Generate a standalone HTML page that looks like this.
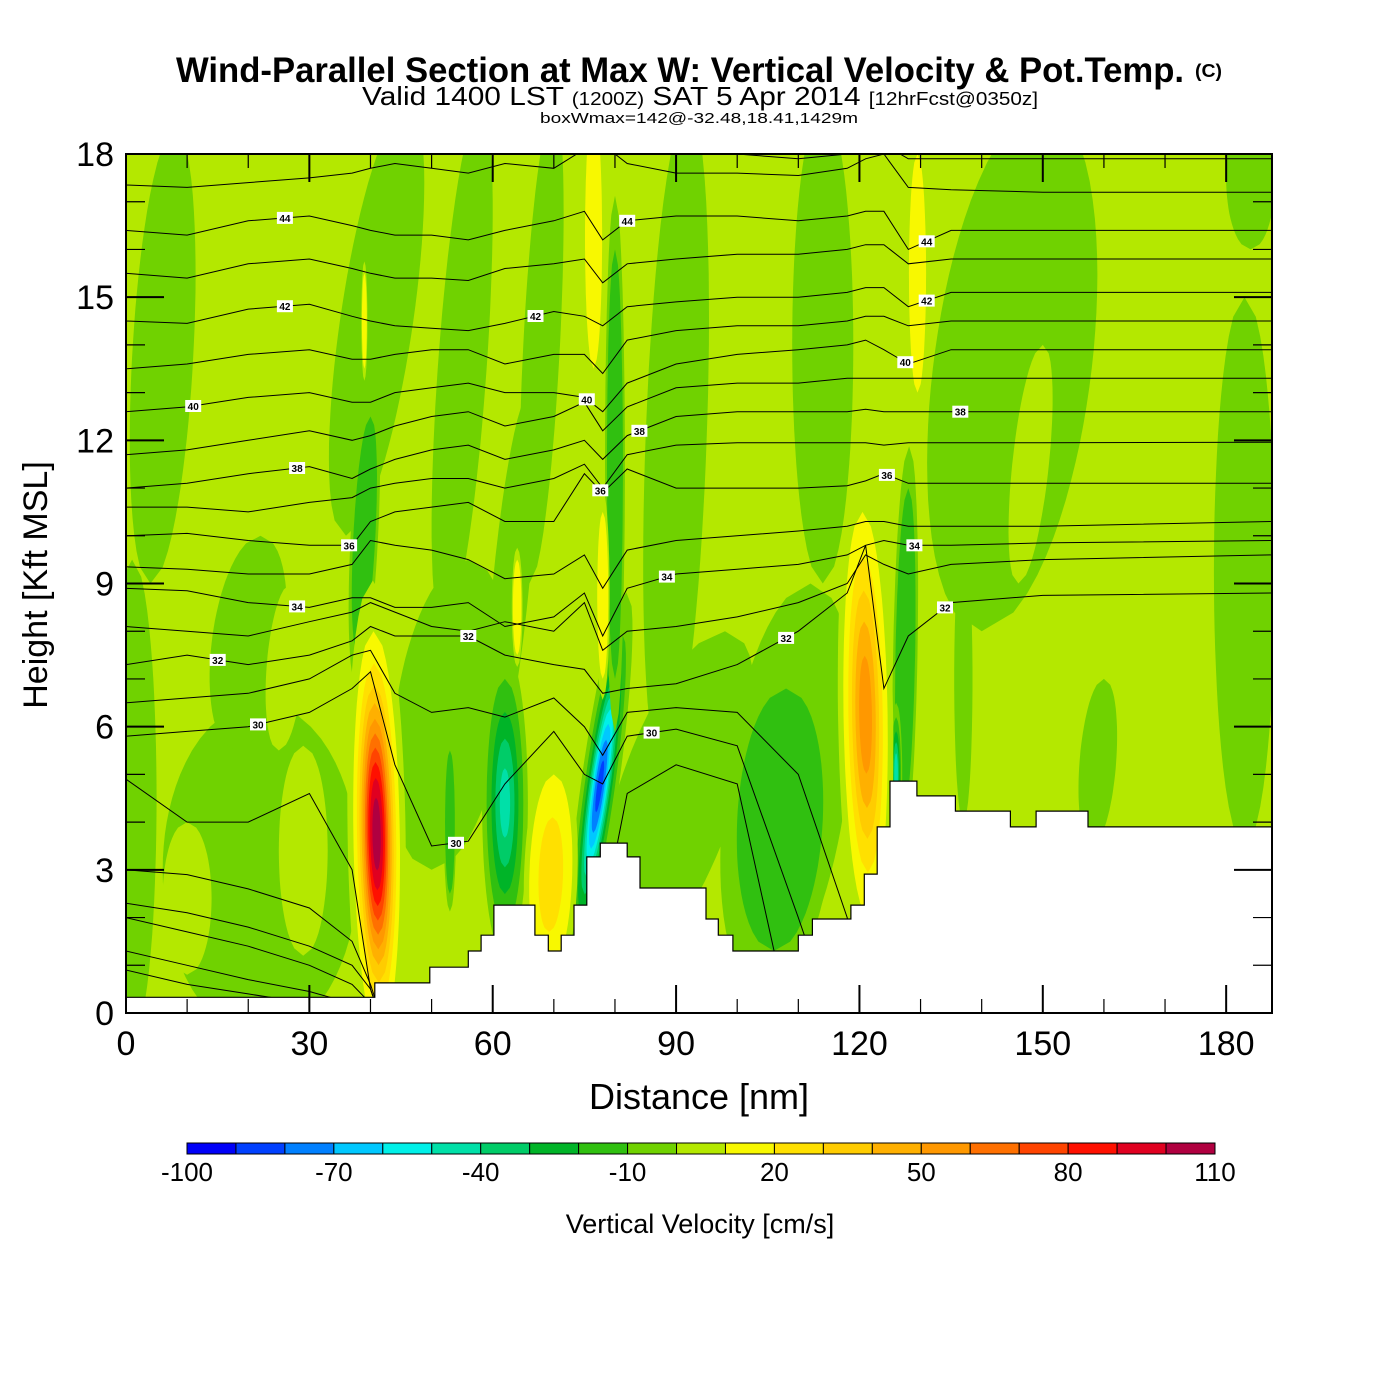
<!DOCTYPE html>
<html><head><meta charset="utf-8"><title>Wind-Parallel Section</title>
<style>body{margin:0;background:#fff}svg{display:block;font-family:"Liberation Sans",sans-serif}</style></head>
<body>
<svg id="chart" width="1400" height="1400" xmlns="http://www.w3.org/2000/svg">
<defs><clipPath id="plotclip"><rect x="126" y="154" width="1146" height="859"/></clipPath></defs>
<rect width="1400" height="1400" fill="#fff"/>
<g id="field" clip-path="url(#plotclip)"></g>
<g id="contours" clip-path="url(#plotclip)"></g>
<g id="terrain" clip-path="url(#plotclip)"></g>
<g id="clabels" clip-path="url(#plotclip)"></g>
<rect x="126" y="154" width="1146" height="859" fill="none" stroke="#000" stroke-width="2"/>
<g id="axes"></g>
<g id="colorbar"></g>
<g>
<text x="176" y="82" font-size="35" font-weight="bold" textLength="1008" lengthAdjust="spacingAndGlyphs">Wind-Parallel Section at Max W: Vertical Velocity &amp; Pot.Temp.</text>
<text x="1195" y="77" font-size="18" font-weight="bold" textLength="27" lengthAdjust="spacingAndGlyphs">(C)</text>
<text x="362" y="105" font-size="26" textLength="676" lengthAdjust="spacingAndGlyphs">Valid 1400 LST <tspan font-size="18">(1200Z)</tspan> SAT 5 Apr 2014 <tspan font-size="18">[12hrFcst@0350z]</tspan></text>
<text x="540" y="123" font-size="15" textLength="318" lengthAdjust="spacingAndGlyphs">boxWmax=142@-32.48,18.41,1429m</text>
<text x="699" y="1109" font-size="36" text-anchor="middle">Distance [nm]</text>
<text transform="translate(47,585) rotate(-90)" font-size="34" text-anchor="middle">Height [Kft MSL]</text>
<text x="700" y="1233" font-size="27" text-anchor="middle">Vertical Velocity [cm/s]</text>
</g>
</svg>
<script>
// ---------- data ----------
const colorLevels = [-100,-90,-80,-70,-60,-50,-40,-30,-20,-10,0,10,20,30,40,50,60,70,80,90,100];
const colorBins = ['#0000f8','#0040ff','#0080ff','#00c8ff','#00f0e8','#00e0a8','#00cc68','#00b428','#30c010','#70d200','#b4e800','#f8f800','#ffe000','#ffcc00','#ffb000','#ff9800','#ff7000','#ff4400','#ff1000','#e00020','#b00040'];
const colorbarTicks = [-100,-70,-40,-10,20,50,80,110];
const xTicks = [0,30,60,90,120,150,180];
const yTicks = [0,3,6,9,12,15,18];
const backgroundW = 5;
// w features: bottom-center nm, top-center nm, bottom kft, top kft, half-width nm, peak w (cm/s)
const featX0 = [4,1,22,18,36,52,60,50,66,88,82,104,114,140,137,183,158,184, 10,29,25,146,170, 38,62,74,80,106,127,126,53, 41.5,121.5,69,78,76.5,129.5,64,39];
const featX1 = [8,1,22,22,46,58,66,56,70,92,98,112,114,150,137,183,160,184, 10,29,27,150,170, 40,62,81,80,108,128,126,53, 40.5,120.5,70,78,76.5,129.5,64,39];
const featY0 = [9,-0.5,-0.5,5.5,10,8,5,3,9,5,1,0.5,9,8,4,3.5,3.5,16, 0.8,1.2,5.5,9,8, 7.5,1.8,1.5,7,1.3,4,3.8,2.5, -0.5,2.0,0.8,7,13.5,13,7.5,13.5];
const featY1 = [18.5,9.5,6.5,10,19,19,13,9.5,19,19,8,9,19,19,10,15,7,19, 4,5.6,9,14,19, 12.5,7,8,16,6.8,11,6.2,5.5, 8.0,10.5,5,10.5,19,18,9.5,15.5];
const featHW = [5,4,16,6,6,4,3,9,3,5,10,10,5,13,1.5,5,3,4, 4,4,3,3,5, 1.8,3,2.5,1.3,7,1.6,0.8,0.8, 3.8,3.6,3.5,0.9,1.4,1.4,0.7,0.4];
const featW = [-5,-5,-5,-5,-5,-5,-5,-5,-5,-5,-5,-5,-5,-5,-5,-5,-5,-5, 5,5,5,5,5, -15,-45,-85,-18,-14,-20,-50,-15, 108,58,28,18,19,18,14,12];
// terrain steps: start distance (nm) and height (kft)
const terrX = [0,40.7,49.7,56,58.1,60.2,66.9,69.1,71.2,73.3,75.4,77.6,82,84.1,94.9,96.9,99.3,110,112.3,118.6,120.8,122.9,125,129.4,135.7,144.7,148.9,157.4];
const terrH = [0.33,0.63,0.96,1.3,1.63,2.26,1.63,1.3,1.63,2.26,3.27,3.56,3.27,2.62,1.97,1.63,1.3,1.63,1.97,2.26,2.91,3.9,4.86,4.55,4.23,3.9,4.23,3.9];
// potential temperature contours: node distances and heights per level
const thetaNodes = [0,10,20,30,37,40,44,50,56,62,70,75,78,82,90,100,110,118,121,124,128,135,150,187.5];
const thetaLevels = [24,25,26,27,28,29,30,31,32,33,34,35,36,37,38,39,40,41,42,43,44,45,46];
const theta24 = [0.9,0.6,0.4,0.2,0,-1,-1,-1,-1,-1,-1,-1,-1,-1,-1,-1,-1,-1,-1,-1,-1,-1,-1,-1];
const theta25 = [1.3,1.0,0.7,0.45,0.2,-1,-1,-1,-1,-1,-1,-1,-1,-1,-1,-1,-1,-1,-1,-1,-1,-1,-1,-1];
const theta26 = [2.0,1.7,1.4,1.0,0.6,0.2,-1,-1,-1,-1,-1,-1,-1,-1,-1,-1,-1,-1,-1,-1,-1,-1,-1,-1];
const theta27 = [2.3,2.1,1.8,1.4,1.0,0.5,-1,-1,-1,-1,-1,-1,-1,-1,-1,-1,-1,-1,-1,-1,-1,-1,-1,-1];
const theta28 = [3.0,2.9,2.6,2.2,1.5,0.6,-1,-1,-1,-1,-1,-1,-1,-1,-1,-1,-1,-1,-1,-1,-1,-1,-1,-1];
const theta29 = [4.9,4.0,4.0,4.6,3.0,0.5,-1,-1,-1,-1,-1,-1,2.0,4.6,5.2,4.8,-1,-1,-1,-1,-1,-1,-1,-1];
const theta30 = [5.8,5.9,6.0,6.3,6.8,7.15,5.2,3.5,3.6,4.8,5.9,5.0,4.8,5.8,5.95,5.6,2.0,-1,-1,-1,-1,-1,-1,-1];
const theta31 = [6.5,6.6,6.7,7.0,7.5,7.6,6.7,6.3,6.4,6.2,6.6,6.0,5.4,6.3,6.4,6.3,5.0,2.0,-1,-1,-1,-1,-1,-1];
const theta32 = [7.3,7.5,7.3,7.5,7.8,8.1,7.9,7.9,7.9,7.5,7.3,7.2,6.7,6.8,6.9,7.3,8.0,8.8,9.8,6.8,7.9,8.6,8.75,8.8];
const theta33 = [8.1,8.0,7.9,8.2,8.4,8.6,8.4,8.1,8.0,8.2,8.0,8.6,7.6,8.0,8.1,8.3,8.6,9.0,9.6,9.4,9.2,9.4,9.5,9.6];
const theta34 = [8.9,8.85,8.6,8.5,8.7,8.7,8.5,8.5,8.6,8.1,8.3,8.8,7.9,8.9,9.2,9.3,9.4,9.6,9.8,9.9,9.8,9.8,9.85,9.9];
const theta35 = [9.35,9.3,9.2,9.2,9.4,9.9,9.8,9.7,9.5,9.1,9.2,9.6,8.9,9.7,9.9,10.0,10.1,10.2,10.3,10.3,10.2,10.2,10.2,10.3];
const theta36 = [10.0,10.05,9.9,9.8,9.8,10.3,10.5,10.6,10.7,10.3,10.3,11.3,10.9,11.4,11.0,11.0,11.0,11.05,11.15,11.3,11.1,11.1,11.1,11.1];
const theta37 = [10.6,10.6,10.5,10.7,10.8,11.0,11.1,11.2,11.2,11.0,11.2,11.5,11.0,11.7,11.9,11.95,11.95,11.95,11.95,11.9,11.95,11.95,11.95,11.96];
const theta38 = [11.0,11.1,11.3,11.45,11.2,11.4,11.6,11.8,11.9,11.6,11.8,12.0,11.6,12.1,12.5,12.6,12.6,12.6,12.65,12.6,12.6,12.6,12.6,12.6];
const theta39 = [11.7,11.8,12.0,12.2,12.0,12.1,12.3,12.5,12.6,12.3,12.5,12.8,12.2,12.7,13.1,13.2,13.2,13.3,13.3,13.3,13.3,13.3,13.3,13.3];
const theta40 = [12.6,12.7,12.9,13.0,12.8,12.8,13.0,13.1,13.2,13.0,13.0,12.9,12.6,13.2,13.6,13.8,13.9,14.0,14.1,13.9,13.6,13.9,13.9,13.9];
const theta41 = [13.5,13.6,13.8,13.9,13.7,13.7,13.8,13.9,13.9,13.6,13.8,13.8,13.4,14.1,14.3,14.4,14.4,14.5,14.6,14.6,14.4,14.5,14.5,14.5];
const theta42 = [14.5,14.45,14.75,14.85,14.6,14.5,14.4,14.35,14.3,14.45,14.7,14.6,14.4,14.8,14.9,15.0,15.0,15.1,15.2,15.2,14.8,15.1,15.1,15.1];
const theta43 = [15.5,15.4,15.7,15.8,15.6,15.5,15.4,15.4,15.35,15.6,15.7,15.8,15.3,15.7,15.8,15.9,15.9,16.0,16.1,16.1,15.7,15.8,15.8,15.8];
const theta44 = [16.4,16.3,16.6,16.7,16.5,16.4,16.3,16.3,16.2,16.4,16.6,16.8,16.2,16.6,16.7,16.7,16.6,16.7,16.8,16.8,16.0,16.4,16.4,16.4];
const theta45 = [17.35,17.3,17.4,17.5,17.6,17.7,17.8,17.7,17.6,17.8,17.7,18.1,18.2,17.8,17.6,17.6,17.55,17.7,17.9,18.0,17.3,17.25,17.2,17.2];
const theta46 = [18.1,18.1,18.1,18.1,18.1,18.2,18.2,18.2,18.2,18.2,18.2,18.2,18.3,18.2,18.0,18.0,17.9,18.0,18.2,18.2,17.9,17.9,17.9,17.9];
const thetaSeries = [theta24,theta25,theta26,theta27,theta28,theta29,theta30,theta31,theta32,theta33,theta34,theta35,theta36,theta37,theta38,theta39,theta40,theta41,theta42,theta43,theta44,theta45,theta46];
const labelLevel = [44,44,44,42,42,42,40,40,40,38,38,38,36,36,36,34,34,34,32,32,32,32,30,30,30];
const labelX = [26,82,131,26,67,131,11,75.4,127.5,28,84,136.5,36.5,77.6,124.5,28,88.5,129,15,56,108,134,21.6,54,86];

// ---------- scales ----------
const NS='http://www.w3.org/2000/svg';
const X0=126, X1=1272, Y0=1013, Y1=154, XMAX=187.5, YMAX=18;
function sx(nm){return X0+nm*(X1-X0)/XMAX;}
function sy(k){return Y0-k*(Y0-Y1)/YMAX;}
function mk(tag,attrs,parent){const e=document.createElementNS(NS,tag);for(const k in attrs)e.setAttribute(k,attrs[k]);parent.appendChild(e);return e;}
function binIndex(v){return Math.max(0,Math.min(20,Math.floor((v+100)/10)));}

// ---------- field ----------
const field=document.getElementById('field');
const bg=mk('rect',{x:X0,y:Y1,width:X1-X0,height:Y0-Y1,fill:colorBins[binIndex(backgroundW)]},field);


function lensPts(i,s){
  const n=28, L=[], R=[];
  for(let j=0;j<=n;j++){
    const u=-1+2*j/n, t=0.5+0.5*s*u;
    const cx=featX0[i]+(featX1[i]-featX0[i])*t, cy=featY0[i]+(featY1[i]-featY0[i])*t;
    const w=featHW[i]*s*Math.sqrt(Math.max(0,1-u*u));
    L.push(sx(cx-w).toFixed(1)+','+sy(cy).toFixed(1));
    R.unshift(sx(cx+w).toFixed(1)+','+sy(cy).toFixed(1));
  }
  return L.concat(R).join(' ');
}
function drawLens(i,s,color){
  const p=mk('polygon',{points:lensPts(i,s),fill:color},field);
  
  
}
for(let i=0;i<featW.length;i++){
  const P=featW[i];
  if(Math.abs(P)<10){drawLens(i,1,colorBins[binIndex(P)]);continue;}
  drawLens(i,1.25,colorBins[binIndex(P>0?5:-5)]);
  const norm=Math.log(Math.abs(P)/10);
  if(P>0){
    for(let t=10;t<P;t+=10){const s=Math.sqrt(Math.log(P/t)/norm);drawLens(i,s,colorBins[binIndex(t)]);}
  }else{
    for(let t=-10;t>P;t-=10){const s=Math.sqrt(Math.log(P/t)/norm);drawLens(i,s,colorBins[binIndex(t)-1]);}
  }
}

// ---------- contours ----------
const cg=document.getElementById('contours');
function thetaAt(series,x){
  for(let j=0;j<thetaNodes.length-1;j++){
    if(x>=thetaNodes[j]&&x<=thetaNodes[j+1]){const f=(x-thetaNodes[j])/(thetaNodes[j+1]-thetaNodes[j]);return series[j]+f*(series[j+1]-series[j]);}
  }
  return series[series.length-1];
}
thetaSeries.forEach((s,li)=>{
  const pts=s.map((h,j)=>sx(thetaNodes[j]).toFixed(1)+','+sy(h).toFixed(1)).join(' ');
  const pl=mk('polyline',{points:pts,fill:'none',stroke:'#000','stroke-width':1},cg);
  
  
});

// ---------- terrain ----------
const tg=document.getElementById('terrain');
let tp=[sx(0)+','+(Y0+5)];
for(let i=0;i<terrX.length;i++){
  const xa=sx(terrX[i]), xb=sx(i+1<terrX.length?terrX[i+1]:XMAX+1), y=sy(terrH[i]);
  tp.push(xa.toFixed(1)+','+y.toFixed(1));tp.push(xb.toFixed(1)+','+y.toFixed(1));
}
tp.push(sx(XMAX+1)+','+(Y0+5));
const terr=mk('polygon',{points:tp.join(' '),fill:'#fff',stroke:'#000','stroke-width':1.2},tg);



// ---------- contour labels ----------
const lg=document.getElementById('clabels');
labelX.forEach((x,i)=>{
  const li=thetaLevels.indexOf(labelLevel[i]);
  const h=thetaAt(thetaSeries[li],x);
  const g=mk('g',{transform:'translate('+sx(x).toFixed(1)+','+sy(h).toFixed(1)+')'},lg);
  
  
  mk('rect',{x:-8,y:-6,width:16,height:12,fill:'#fff'},g);
  const t=mk('text',{x:0,y:4,'font-size':10,'text-anchor':'middle','font-weight':'bold'},g);
  t.textContent=labelLevel[i];
});

// ---------- axes ----------
const ag=document.getElementById('axes');
for(let v=0;v<=180;v+=10){
  const x=sx(v), major=(v%30===0), len=major?28:14;
  const b=mk('line',{x1:x,y1:Y0,x2:x,y2:Y0-len,stroke:'#000','stroke-width':major?2:1.2},ag);
  
  
  const t=mk('line',{x1:x,y1:Y1,x2:x,y2:Y1+len,stroke:'#000','stroke-width':major?2:1.2},ag);
  
  
}
xTicks.forEach(v=>{
  const t=mk('text',{x:sx(v),y:1055,'font-size':34,'text-anchor':'middle'},ag);
  
  
  t.textContent=v;
});
for(let v=0;v<=18;v+=1){
  const y=sy(v), major=(v%3===0), len=major?38:19;
  const l=mk('line',{x1:X0,y1:y,x2:X0+len,y2:y,stroke:'#000','stroke-width':major?2:1.2},ag);
  
  
  const r=mk('line',{x1:X1,y1:y,x2:X1-len,y2:y,stroke:'#000','stroke-width':major?2:1.2},ag);
  
  
}
yTicks.forEach(v=>{
  const t=mk('text',{x:114,y:sy(v)+12,'font-size':34,'text-anchor':'end'},ag);
  
  
  t.textContent=v;
});

// ---------- colorbar ----------
const cb=document.getElementById('colorbar');
const cbX0=187, cbX1=1215, cbY=1143, cbH=11, bw=(cbX1-cbX0)/colorBins.length;
colorBins.forEach((c,i)=>{
  const r=mk('rect',{x:cbX0+i*bw,y:cbY,width:bw,height:cbH,fill:c,stroke:'#000','stroke-width':1},cb);
  
  
});
colorbarTicks.forEach(v=>{
  const t=mk('text',{x:cbX0+(v+100)/10*bw,y:1181,'font-size':26,'text-anchor':'middle'},cb);
  
  
  t.textContent=v;
});
</script>
</body></html>
